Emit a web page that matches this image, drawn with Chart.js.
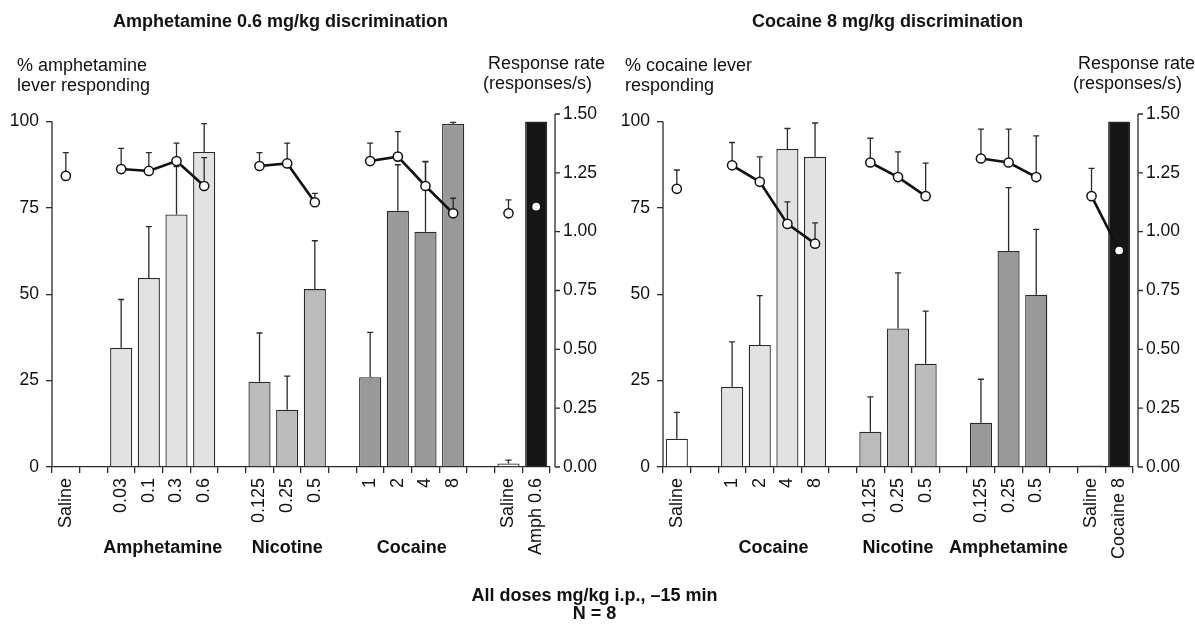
<!DOCTYPE html>
<html>
<head>
<meta charset="utf-8">
<script src="https://cdn.jsdelivr.net/npm/chart.js@4.4.0/dist/chart.umd.min.js"></script>
<style>
  body { margin: 0; background: #fff; font-family: "Liberation Sans", Arial, sans-serif; color: #111; }
  #wrap { position: relative; width: 1195px; height: 625px; overflow: hidden; }
  canvas { position: absolute; top: 0; }
  .txt { position: absolute; font-size: 18px; line-height: 20px; white-space: nowrap; }
  .bold { font-weight: bold; }
</style>
</head>
<body>
<div id="wrap">
  <canvas id="amph" width="600" height="625" style="left:0"></canvas>
  <canvas id="coc" width="595" height="625" style="left:600px"></canvas>

  <div class="txt bold" style="left:113px;top:11px">Amphetamine 0.6 mg/kg discrimination</div>
  <div class="txt bold" style="left:752px;top:11px">Cocaine 8 mg/kg discrimination</div>

  <div class="txt" style="left:17px;top:55px">% amphetamine<br>lever responding</div>
  <div class="txt" style="left:488px;top:53px">Response rate</div>
  <div class="txt" style="left:483px;top:73px">(responses/s)</div>

  <div class="txt" style="left:625px;top:55px">% cocaine lever<br>responding</div>
  <div class="txt" style="left:1078px;top:53px">Response rate</div>
  <div class="txt" style="left:1073px;top:73px">(responses/s)</div>

  <div class="txt bold" style="left:0;width:1189px;top:586px;line-height:18px;text-align:center">All doses mg/kg i.p., &ndash;15 min<br>N = 8</div>
</div>

<script>
// ---- amphetamine-trained rats ----
const ampLabels = ["Saline", "", "0.03", "0.1", "0.3", "0.6", "", "0.125", "0.25", "0.5", "", "1", "2", "4", "8", "", "Saline", "Amph 0.6"];
const ampLever = [0.3, null, 34.5, 54.7, 73.1, 91.2, null, 24.7, 16.6, 51.5, null, 26.0, 74.2, 68.1, 99.3, null, 1.0, 100];
const ampLeverSem = [0, null, 14.0, 14.9, 13.9, 8.2, null, 14.1, 9.7, 14.0, null, 13.0, 13.3, 20.4, 0.5, null, 1.0, 0];
const ampRate = [1.237, null, 1.266, 1.258, 1.30, 1.194, null, 1.279, 1.29, 1.125, null, 1.30, 1.319, 1.194, 1.078, null, 1.078, 1.106];
const ampRateSem = [0.099, null, 0.088, 0.078, 0.076, 0.121, null, 0.057, 0.086, 0.038, null, 0.076, 0.106, 0.103, 0.064, null, 0.057, 0];
const ampColors = ["#ffffff", null, "#e2e2e2", "#e2e2e2", "#e2e2e2", "#e2e2e2", null, "#bbbbbb", "#bbbbbb", "#bbbbbb", null, "#999999", "#999999", "#999999", "#999999", null, "#ffffff", "#161616"];
const ampRuns = [[2, 3, 4, 5], [7, 8, 9], [11, 12, 13, 14]];
const ampSingles = [0, 16, 17];
const ampGroups = [["Amphetamine", 2, 5], ["Nicotine", 7, 9], ["Cocaine", 11, 14]];

// ---- cocaine-trained rats ----
const cocLabels = ["Saline", "", "1", "2", "4", "8", "", "0.125", "0.25", "0.5", "", "0.125", "0.25", "0.5", "", "Saline", "Cocaine 8"];
const cocLever = [8.2, null, 23.2, 35.3, 92.1, 89.8, null, 10.2, 40.1, 29.9, null, 12.8, 62.5, 49.9, null, 0.4, 100];
const cocLeverSem = [7.6, null, 13.0, 14.3, 5.9, 9.8, null, 10.1, 16.1, 15.2, null, 12.6, 18.4, 18.9, null, 0, 0];
const cocRate = [1.182, null, 1.282, 1.212, 1.033, 0.949, null, 1.294, 1.232, 1.151, null, 1.311, 1.294, 1.232, null, 1.151, 0.92];
const cocRateSem = [0.080, null, 0.097, 0.106, 0.094, 0.088, null, 0.103, 0.107, 0.140, null, 0.125, 0.142, 0.175, null, 0.118, 0];
const cocColors = ["#ffffff", null, "#e2e2e2", "#e2e2e2", "#e2e2e2", "#e2e2e2", null, "#bbbbbb", "#bbbbbb", "#bbbbbb", null, "#999999", "#999999", "#999999", null, "#ffffff", "#161616"];
const cocRuns = [[2, 3, 4, 5], [7, 8, 9], [11, 12, 13], [15, 16]];
const cocSingles = [0];
const cocGroups = [["Cocaine", 2, 5], ["Nicotine", 7, 9], ["Amphetamine", 11, 13]];

const ink = "#2a2a2a";
Chart.defaults.font.family = '"Liberation Sans", Arial, sans-serif';
Chart.defaults.color = "#111";

function drawSem(chart, meta, ds) {
    const ctx = chart.ctx;
    const scale = chart.scales[ds.yAxisID];
    ctx.save();
    ctx.strokeStyle = ink;
    ctx.lineWidth = 1.3;
    meta.data.forEach((el, i) => {
        const v = ds.data[i], e = ds.sem[i];
        if (v == null || !e) return;
        const top = scale.getPixelForValue(v + e);
        ctx.beginPath();
        ctx.moveTo(el.x, scale.getPixelForValue(v));
        ctx.lineTo(el.x, top);
        ctx.moveTo(el.x - 3, top);
        ctx.lineTo(el.x + 3, top);
        ctx.stroke();
    });
    ctx.restore();
}

// bars get their SEM on top, the rate points get it underneath
const semBars = {
    id: "semBars",
    afterDatasetDraw(chart, args) {
        const ds = chart.data.datasets[args.index];
        if (ds.type === "bar") drawSem(chart, args.meta, ds);
    },
    beforeDatasetDraw(chart, args) {
        const ds = chart.data.datasets[args.index];
        if (ds.type === "line") drawSem(chart, args.meta, ds);
    },
};

// left axis stops at 100, right axis sits a little off the last bar, group names under the doses
const axisExtras = {
    id: "axisExtras",
    afterDraw(chart, args, opts) {
        const { ctx, chartArea, scales } = chart;
        ctx.save();
        ctx.strokeStyle = ink;
        ctx.lineWidth = 1.3;
        ctx.beginPath();
        ctx.moveTo(chartArea.left, scales.y.getPixelForValue(100));
        ctx.lineTo(chartArea.left, scales.y.getPixelForValue(0));
        const rx = chartArea.right + 5;
        ctx.moveTo(rx, scales.y1.getPixelForValue(1.5));
        ctx.lineTo(rx, scales.y1.getPixelForValue(0));
        scales.y1.ticks.forEach((t) => {
            const py = scales.y1.getPixelForValue(t.value);
            ctx.moveTo(rx, py);
            ctx.lineTo(rx + 5, py);
        });
        ctx.stroke();

        ctx.fillStyle = "#111";
        ctx.font = 'bold 18px "Liberation Sans", Arial, sans-serif';
        ctx.textAlign = "center";
        ctx.textBaseline = "alphabetic";
        opts.groups.forEach(([name, a, b]) => {
            const x = (scales.x.getPixelForValue(a) + scales.x.getPixelForValue(b)) / 2;
            ctx.fillText(name, x, 553);
        });
        ctx.restore();
    },
};

function rateSet(values, sem, keep, showLine) {
    return {
        type: "line",
        data: values.map((v, i) => (keep.includes(i) ? v : null)),
        sem: sem,
        yAxisID: "y1",
        order: 1,
        showLine: showLine,
        spanGaps: false,
        borderColor: "#111",
        borderWidth: 2.6,
        pointRadius: 4.6,
        pointBackgroundColor: "#fff",
        pointBorderColor: "#111",
        pointBorderWidth: 1.5,
    };
}

function makePanel(id, d) {
    const datasets = [
        {
            type: "bar",
            data: d.lever,
            sem: d.leverSem,
            yAxisID: "y",
            order: 2,
            backgroundColor: d.colors,
            borderColor: ink,
            borderWidth: 1.3,
            barPercentage: 0.8,
            categoryPercentage: 1,
        },
    ];
    d.runs.forEach((run) => datasets.push(rateSet(d.rate, d.rateSem, run, true)));
    datasets.push(rateSet(d.rate, d.rateSem, d.singles, false));

    return new Chart(document.getElementById(id).getContext("2d"), {
        type: "bar",
        data: { labels: d.labels, datasets: datasets },
        plugins: [semBars, axisExtras],
        options: {
            responsive: false,
            animation: false,
            layout: { padding: { top: 114, left: 0, right: 0, bottom: 0 } },
            plugins: {
                legend: { display: false },
                tooltip: { enabled: false },
                axisExtras: { groups: d.groups },
            },
            scales: {
                x: {
                    afterFit: (s) => { s.height = 158; },
                    grid: { offset: true, drawOnChartArea: false, drawTicks: true, tickLength: 6, color: ink, lineWidth: 1.3 },
                    border: { color: ink, width: 1.3 },
                    ticks: { autoSkip: false, maxRotation: 90, minRotation: 90, padding: 5, font: { size: 18 }, color: "#111" },
                },
                y: {
                    position: "left",
                    min: 0,
                    max: 102.2,
                    afterFit: (s) => { s.width = d.leftWidth; },
                    afterBuildTicks: (s) => { s.ticks = [0, 25, 50, 75, 100].map((v) => ({ value: v })); },
                    grid: { drawOnChartArea: false, drawTicks: true, tickLength: 6, color: ink, lineWidth: 1.3 },
                    border: { display: false },
                    ticks: { padding: 7, font: { size: 17.5 }, color: "#111" },
                },
                y1: {
                    position: "right",
                    min: 0,
                    max: 1.5,
                    afterFit: (s) => { s.width = d.rightWidth; },
                    grid: { drawOnChartArea: false, drawTicks: false },
                    border: { display: false },
                    ticks: { stepSize: 0.25, padding: 13, font: { size: 17.5 }, color: "#111", callback: (v) => v.toFixed(2) },
                },
            },
        },
    });
}

makePanel("amph", {
    labels: ampLabels, lever: ampLever, leverSem: ampLeverSem, rate: ampRate, rateSem: ampRateSem,
    colors: ampColors, runs: ampRuns, singles: ampSingles, groups: ampGroups, leftWidth: 52, rightWidth: 50,
});
makePanel("coc", {
    labels: cocLabels, lever: cocLever, leverSem: cocLeverSem, rate: cocRate, rateSem: cocRateSem,
    colors: cocColors, runs: cocRuns, singles: cocSingles, groups: cocGroups, leftWidth: 63, rightWidth: 62,
});
</script>
</body>
</html>
